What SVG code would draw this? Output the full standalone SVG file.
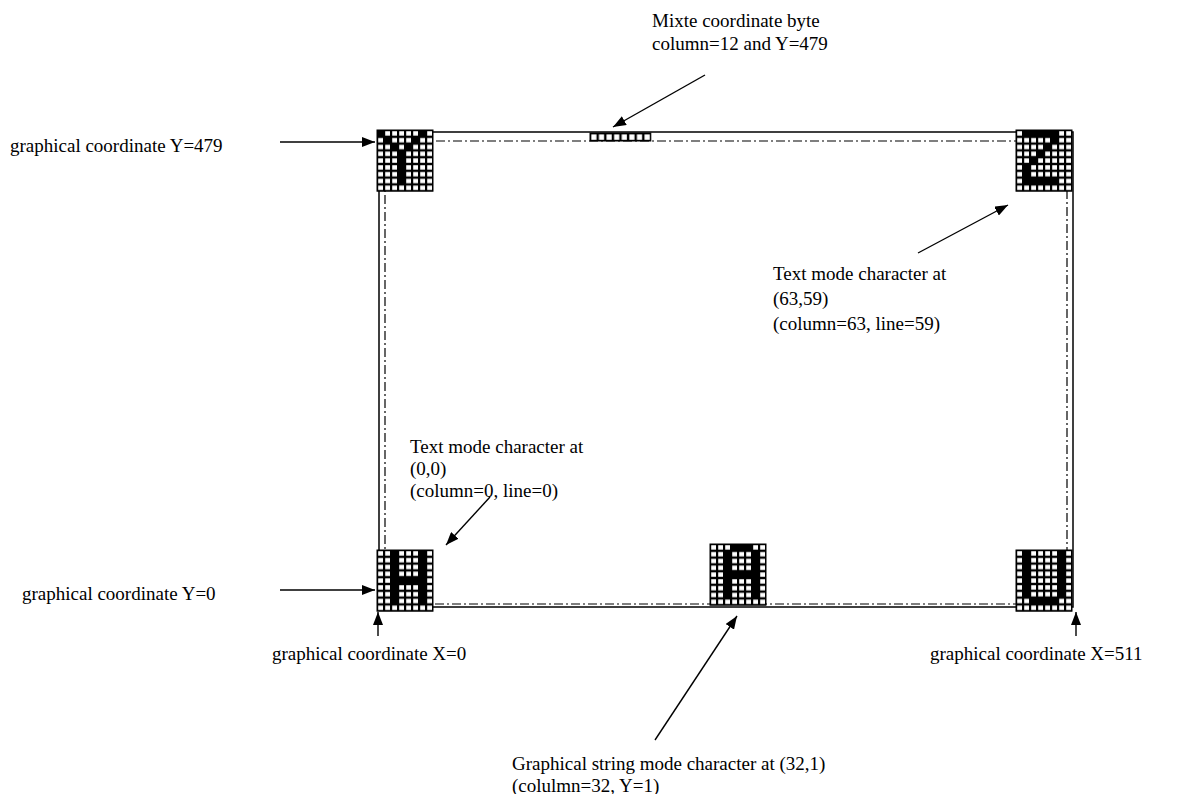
<svg xmlns="http://www.w3.org/2000/svg" width="1177" height="794" viewBox="0 0 1177 794">
<style>
text{font-family:"Liberation Serif","Times New Roman",serif;font-size:19px;fill:#000}
.frame{fill:none;stroke:#000;stroke-width:1.5}
.dd{fill:none;stroke:#000;stroke-width:1.2;stroke-dasharray:9 3 2 3}
.arr{fill:none;stroke:#000;stroke-width:1.4;marker-end:url(#ah)}
.px{fill:#000}
.gb{fill:none;stroke:#000;stroke-width:1}
</style>
<defs>
<marker id="ah" markerUnits="userSpaceOnUse" markerWidth="14" markerHeight="10" refX="13" refY="5" orient="auto">
<path d="M0 0L13 5L0 10z" fill="#000"/>
</marker>
<pattern id="cells" patternUnits="userSpaceOnUse" width="7" height="6.8">
<rect width="7" height="6.8" fill="#000"/>
<rect x="1.2" y="1.2" width="4.8" height="4.4" fill="#fff"/>
</pattern>
<pattern id="bcells" patternUnits="userSpaceOnUse" width="7.6" height="8">
<rect width="7.6" height="8" fill="#000"/>
<rect x="1.3" y="1.4" width="5.2" height="5.4" fill="#fff"/>
</pattern>
</defs>
<rect id="background" width="1177" height="794" fill="#fff"/>

<g id="screen">
<rect class="frame" x="379" y="132" width="694" height="475"/>
<rect class="dd" x="385" y="141" width="682" height="463"/>
</g>

<g id="mixte-byte" transform="translate(590,133)">
<rect width="60.8" height="8" fill="url(#bcells)"/>
<rect class="gb" width="60.8" height="8"/>
</g>

<g id="char-Y" transform="translate(377,130)">
<rect width="56" height="61.2" fill="url(#cells)"/>
<path class="px" d="M0 0h7v6.8h-7zM42 0h7v6.8h-7zM7 6.8h7v6.8h-7zM35 6.8h7v6.8h-7zM14 13.6h7v6.8h-7zM28 13.6h7v6.8h-7zM21 20.4h7v34h-7z"/>
<rect class="gb" width="56" height="61.2"/>
</g>

<g id="char-Z" transform="translate(1016,130)">
<rect width="56" height="61.2" fill="url(#cells)"/>
<path class="px" d="M7 0h35v6.8h-35zM35 6.8h7v6.8h-7zM28 13.6h7v6.8h-7zM21 20.4h7v6.8h-7zM14 27.2h7v6.8h-7zM7 34h7v13.6h-7zM7 47.6h35v6.8h-35z"/>
<rect class="gb" width="56" height="61.2"/>
</g>

<g id="char-H" transform="translate(377,550)">
<rect width="56" height="61.2" fill="url(#cells)"/>
<path class="px" d="M14 0h7v54.4h-7zM42 0h7v54.4h-7zM21 27.2h21v6.8h-21z"/>
<rect class="gb" width="56" height="61.2"/>
</g>

<g id="char-A" transform="translate(710,544)">
<rect width="56" height="61.2" fill="url(#cells)"/>
<path class="px" d="M21 0h21v6.8h-21zM14 6.8h7v47.6h-7zM42 6.8h7v47.6h-7zM21 27.2h21v6.8h-21z"/>
<rect class="gb" width="56" height="61.2"/>
</g>

<g id="char-U" transform="translate(1016,550)">
<rect width="56" height="61.2" fill="url(#cells)"/>
<path class="px" d="M7 0h7v47.6h-7zM42 0h7v47.6h-7zM14 47.6h28v6.8h-28z"/>
<rect class="gb" width="56" height="61.2"/>
</g>

<g id="connectors">
<path class="arr" d="M280 142H375"/>
<path class="arr" d="M280 590H375"/>
<path class="arr" d="M378 636V612"/>
<path class="arr" d="M1076 636V612"/>
<path class="arr" d="M705 75L613 127"/>
<path class="arr" d="M918 253L1008 205"/>
<path class="arr" d="M490 497L446 545"/>
<path class="arr" d="M655 740L737 616"/>
</g>

<g id="label-mixte">
<text x="652" y="27">Mixte coordinate byte</text>
<text x="652" y="50">column=12 and Y=479</text>
</g>
<g id="label-y479"><text x="10" y="152">graphical coordinate Y=479</text></g>
<g id="label-y0"><text x="22" y="600">graphical coordinate Y=0</text></g>
<g id="label-x0"><text x="272" y="660">graphical coordinate X=0</text></g>
<g id="label-x511"><text x="930" y="660">graphical coordinate X=511</text></g>
<g id="label-text6359">
<text x="773" y="280">Text mode character at</text>
<text x="773" y="305">(63,59)</text>
<text x="773" y="330">(column=63, line=59)</text>
</g>
<g id="label-text00">
<text x="410" y="453">Text mode character at</text>
<text x="410" y="475">(0,0)</text>
<text x="410" y="497">(column=0, line=0)</text>
</g>
<g id="label-graph">
<text x="512" y="770">Graphical string mode character at (32,1)</text>
<text x="512" y="792">(colulmn=32, Y=1)</text>
</g>
</svg>
